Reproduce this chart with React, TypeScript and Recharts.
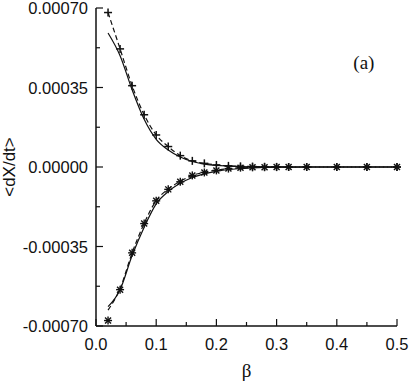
import React from "react";
import {
  ComposedChart,
  Line,
  Scatter,
  XAxis,
  YAxis,
  ReferenceDot,
  Label,
} from "recharts";

// beta grid of the simulation points
const betas = [
  0.02, 0.04, 0.06, 0.08, 0.1, 0.12, 0.14, 0.16, 0.18, 0.2, 0.22, 0.24, 0.26,
  0.28, 0.3, 0.32, 0.35, 0.4, 0.45, 0.5,
];
// upper branch: "+" markers (joined by dashed line) and solid theory curve
const upperSim = [
  0.00068, 0.00052, 0.000358, 0.00023, 0.000141, 0.00009, 0.00005, 0.000027,
  0.000016, 0.000009, 0.000005, 0.000003, 0.000002, 0.000001, 0.0000005, 0, 0,
  0, 0, 0,
];
const upperSolid = [
  0.00059, 0.00049, 0.00034, 0.00021, 0.000122, 0.000075, 0.000044, 0.000024,
  0.000013, 0.000007, 0.000004, 0.000002, 0.000001, 0.0000005, 0, 0, 0, 0, 0,
  0,
];
// lower branch: "*" markers, dashed and solid curves
const lowerSim = [
  -0.000676, -0.00054, -0.000378, -0.000249, -0.000149, -0.0000985, -0.000065,
  -0.000037, -0.000024, -0.000015, -0.000007, -0.000003, -0.0000015, -0.000001,
  -0.0000005, 0, 0, 0, 0, 0,
];
const lowerDash = [
  -0.00063, -0.000535, -0.000378, -0.000248, -0.000148, -0.000097, -0.000063,
  -0.000037, -0.000023, -0.000014, -0.000007, -0.000004, -0.000002, -0.000001,
  -0.0000005, 0, 0, 0, 0, 0,
];
const lowerSolid = [
  -0.000615, -0.00054, -0.00039, -0.000265, -0.000162, -0.000108, -0.000072,
  -0.000046, -0.00003, -0.000019, -0.000011, -0.000007, -0.000004, -0.000002,
  -0.000001, -0.0000005, 0, 0, 0, 0,
];

const xTicks = [0, 0.05, 0.1, 0.15, 0.2, 0.25, 0.3, 0.35, 0.4, 0.45, 0.5];
const yTicks = [
  -0.0007, -0.000525, -0.00035, -0.000175, 0, 0.000175, 0.00035, 0.000525,
  0.0007,
];

const data = betas.map((b, i) => ({
  beta: b,
  upperSim: upperSim[i],
  upperSolid: upperSolid[i],
  lowerSim: lowerSim[i],
  lowerDash: lowerDash[i],
  lowerSolid: lowerSolid[i],
}));

const INK = "#111";
const SANS = "'Liberation Sans', Arial, sans-serif";
const SERIF = "'Liberation Serif', 'Times New Roman', serif";

const isMajorX = (v: number) => Math.abs(v * 10 - Math.round(v * 10)) < 1e-6;
const isMajorY = (v: number) =>
  Math.abs(v / 0.00035 - Math.round(v / 0.00035)) < 1e-6;

const BottomTick = ({ x, y, payload }: any) => {
  const major = isMajorX(payload.value);
  return (
    <g>
      <line x1={x} x2={x} y1={y} y2={y - (major ? 7 : 4)} stroke={INK} strokeWidth={1.2} />
      {major && (
        <text x={x} y={y + 24} textAnchor="middle" fontFamily={SANS} fontSize={16.5} fill={INK}>
          {payload.value.toFixed(1)}
        </text>
      )}
    </g>
  );
};

const TopTick = ({ x, y, payload }: any) => {
  const major = isMajorX(payload.value);
  return <line x1={x} x2={x} y1={y} y2={y + (major ? 7 : 4)} stroke={INK} strokeWidth={1.2} />;
};

const LeftTick = ({ x, y, payload }: any) => {
  const major = isMajorY(payload.value);
  return (
    <g>
      <line x1={x} x2={x + (major ? 7 : 4)} y1={y} y2={y} stroke={INK} strokeWidth={1.2} />
      {major && (
        <text x={x - 8} y={y + 6} textAnchor="end" fontFamily={SANS} fontSize={16.5} fill={INK}>
          {payload.value.toFixed(5)}
        </text>
      )}
    </g>
  );
};

const RightTick = ({ x, y, payload }: any) => {
  const major = isMajorY(payload.value);
  return <line x1={x} x2={x - (major ? 7 : 4)} y1={y} y2={y} stroke={INK} strokeWidth={1.2} />;
};

const PlusDot = ({ cx, cy }: any) => {
  if (cx == null || cy == null) return null;
  return (
    <g stroke={INK} strokeWidth={1.5}>
      <line x1={cx - 4} x2={cx + 4} y1={cy} y2={cy} />
      <line x1={cx} x2={cx} y1={cy - 4} y2={cy + 4} />
    </g>
  );
};

const StarDot = ({ cx, cy }: any) => {
  if (cx == null || cy == null) return null;
  return (
    <g stroke={INK} strokeWidth={1.4}>
      <line x1={cx - 4} x2={cx + 4} y1={cy} y2={cy} />
      <line x1={cx} x2={cx} y1={cy - 4} y2={cy + 4} />
      <line x1={cx - 3} x2={cx + 3} y1={cy - 3} y2={cy + 3} />
      <line x1={cx - 3} x2={cx + 3} y1={cy + 3} y2={cy - 3} />
    </g>
  );
};

export default function App() {
  return (
    <div style={{ position: "absolute", left: 0, top: 0, width: 409, height: 382, background: "#fff" }}>
      <ComposedChart
        width={409}
        height={382}
        data={data}
        margin={{ top: 8, right: 12, bottom: 0, left: 0 }}
      >
        <XAxis
          xAxisId="b"
          dataKey="beta"
          type="number"
          domain={[0, 0.5]}
          ticks={xTicks}
          interval={0}
          height={56}
          tickSize={0}
          tickMargin={0}
          tickLine={false}
          axisLine={{ stroke: INK, strokeWidth: 1.5 }}
          tick={<BottomTick />}
        >
          <Label
            content={({ viewBox }: any) => (
              <text
                x={viewBox.x + viewBox.width / 2}
                y={viewBox.y + 51}
                textAnchor="middle"
                fontFamily={SERIF}
                fontSize={19}
                fill={INK}
              >
                β
              </text>
            )}
          />
        </XAxis>
        <XAxis
          xAxisId="t"
          dataKey="beta"
          type="number"
          orientation="top"
          domain={[0, 0.5]}
          ticks={xTicks}
          interval={0}
          height={0}
          tickSize={0}
          tickMargin={0}
          tickLine={false}
          axisLine={{ stroke: INK, strokeWidth: 1.5 }}
          tick={<TopTick />}
        />
        <YAxis
          yAxisId="l"
          type="number"
          domain={[-0.0007, 0.0007]}
          ticks={yTicks}
          interval={0}
          width={96}
          tickSize={0}
          tickMargin={0}
          tickLine={false}
          axisLine={{ stroke: INK, strokeWidth: 1.5 }}
          tick={<LeftTick />}
        >
          <Label
            content={({ viewBox }: any) => {
              const cx = viewBox.x + 15;
              const cy = viewBox.y + viewBox.height / 2;
              return (
                <text
                  x={cx}
                  y={cy}
                  transform={`rotate(-90, ${cx}, ${cy})`}
                  textAnchor="middle"
                  fontFamily={SANS}
                  fontSize={17}
                  fill={INK}
                >
                  {"<dX/dt>"}
                </text>
              );
            }}
          />
        </YAxis>
        <YAxis
          yAxisId="r"
          orientation="right"
          type="number"
          domain={[-0.0007, 0.0007]}
          ticks={yTicks}
          interval={0}
          width={0}
          tickSize={0}
          tickMargin={0}
          tickLine={false}
          axisLine={{ stroke: INK, strokeWidth: 1.5 }}
          tick={<RightTick />}
        />

        <Line
          xAxisId="b"
          yAxisId="l"
          type="monotone"
          dataKey="upperSolid"
          stroke={INK}
          strokeWidth={1.2}
          dot={false}
          isAnimationActive={false}
        />
        <Line
          xAxisId="b"
          yAxisId="l"
          type="monotone"
          dataKey="upperSim"
          stroke={INK}
          strokeWidth={1.2}
          strokeDasharray="5 3"
          dot={<PlusDot />}
          activeDot={false}
          isAnimationActive={false}
        />
        <Line
          xAxisId="b"
          yAxisId="l"
          type="monotone"
          dataKey="lowerSolid"
          stroke={INK}
          strokeWidth={1.2}
          dot={false}
          isAnimationActive={false}
        />
        <Line
          xAxisId="b"
          yAxisId="l"
          type="monotone"
          dataKey="lowerDash"
          stroke={INK}
          strokeWidth={1.2}
          strokeDasharray="5 3"
          dot={false}
          isAnimationActive={false}
        />
        <Scatter
          xAxisId="b"
          yAxisId="l"
          dataKey="lowerSim"
          shape={<StarDot />}
          isAnimationActive={false}
        />
        <ReferenceDot
          xAxisId="b"
          yAxisId="l"
          x={0.445}
          y={0.00046}
          r={0}
          shape={({ cx, cy }: any) => (
            <text x={cx} y={cy + 6} textAnchor="middle" fontFamily={SERIF} fontSize={19} fill={INK}>
              (a)
            </text>
          )}
        />
      </ComposedChart>
    </div>
  );
}
